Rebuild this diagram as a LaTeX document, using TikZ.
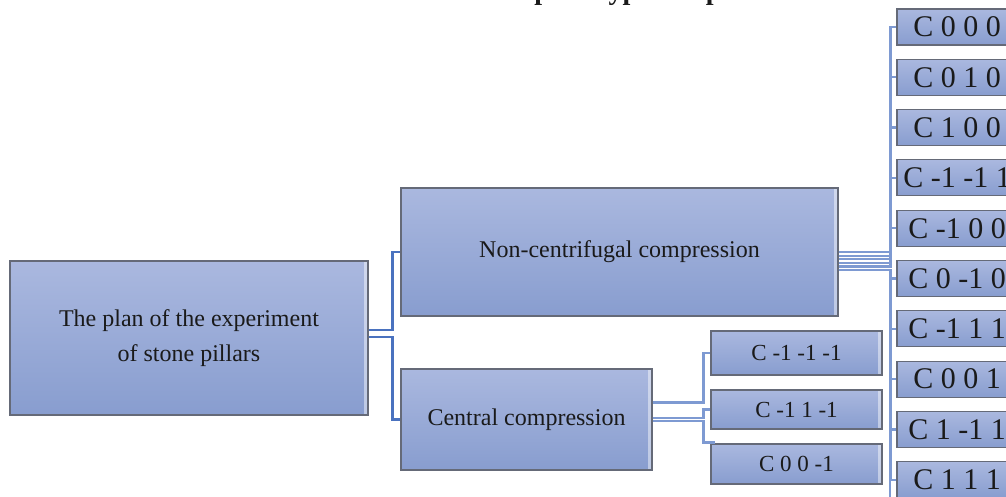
\documentclass[tikz,border=0pt]{standalone}
\usepackage{fontspec}
\setmainfont{Liberation Serif}
\usetikzlibrary{calc}
\definecolor{boxtop}{HTML}{AAB8DF}
\definecolor{boxbot}{HTML}{889DCF}
\definecolor{boxedge}{HTML}{656A78}
\definecolor{linkdark}{HTML}{4A72BF}
\definecolor{linklight}{HTML}{7E9AD2}
\definecolor{txt}{HTML}{1A1A1A}
\tikzset{
  box/.style={rectangle, draw=boxedge, line width=1.1pt, top color=boxtop, bottom color=boxbot,
    inner sep=0pt, text=txt, align=center,
    path picture={\fill[white,opacity=.45] ([xshift=-4pt]path picture bounding box.north east) rectangle (path picture bounding box.south east);}},
  bigtxt/.style={font=\fontsize{24}{35}\selectfont},
  smalltxt/.style={font=\fontsize{23}{26}\selectfont},
  leaftxt/.style={font=\fontsize{30}{32}\selectfont},
  llink/.style={draw=linkdark, line width=2.6pt},
  rlink/.style={draw=linklight, line width=2.2pt},
}
\begin{document}
\begin{tikzpicture}[x=1pt,y=-1pt]
\useasboundingbox (0,0) rectangle (1006,497);
\fill[white] (0,0) rectangle (1006,497);
% partially visible title (cut off at the top)
\node[anchor=base, font=\bfseries\fontsize{28}{30}\selectfont, text=txt, inner sep=0pt] (title) at (528,0) {The numeration of prototype samples};
% main boxes
\node[box, bigtxt, minimum width=358pt, minimum height=154pt] (root) at (189,338) {The plan of the experiment\\of stone pillars};
\node[box, bigtxt, minimum width=437pt, minimum height=128pt] (nc) at (619.5,252) {Non-centrifugal compression};
\node[box, bigtxt, minimum width=251pt, minimum height=101pt] (cc) at (526.5,419.5) {Central compression};
% small boxes
\node[box, smalltxt, minimum width=171pt, minimum height=44pt] (s1) at (796.5,353) {C -1 -1 -1};
\node[box, smalltxt, minimum width=171pt, minimum height=39pt] (s2) at (796.5,409.5) {C -1 1 -1};
\node[box, smalltxt, minimum width=171pt, minimum height=40pt] (s3) at (796.5,464) {C 0 0 -1};
% leaf boxes on the right
\foreach \n/\yy/\t in {r1/27/{C 0 0 0}, r2/77.3/{C 0 1 0}, r3/127.6/{C 1 0 0}, r4/177.9/{C -1 -1 1},
  r5/228.2/{C -1 0 0}, r6/278.5/{C 0 -1 0}, r7/328.8/{C -1 1 1}, r8/379.1/{C 0 0 1},
  r9/429.4/{C 1 -1 1}, r10/479.7/{C 1 1 1}}
  \node[box, leaftxt, minimum width=120pt, minimum height=36pt] (\n) at (957,\yy) {\t};
% connectors: root to children
\draw[llink] ($(root.east)+(0,-8)$) -- ++(24,0) |- (nc.west);
\draw[llink] ($(root.east)+(0,-1)$) -- ++(24,0) |- (cc.west);
% central compression to its children
\draw[rlink] ($(cc.east)+(0,-17)$) -- ++(51,0) |- (s1.west);
\draw[rlink] ($(cc.east)+(0,-1.5)$) -- ++(51,0) |- (s2.west);
\draw[rlink] ($(cc.east)+(0,1.5)$) -- ++(51,0) |- ($(s3.north west)+(5,-1)$);
% non-centrifugal compression to leaves
\foreach \n/\o in {r1/0, r2/3.6, r3/7.2, r4/10.8, r5/14.4, r6/18, r7/18, r8/18, r9/18, r10/18}
  \draw[rlink] ($(nc.east)+(0,\o)$) -- ++(52,0) |- (\n.west);
\coordinate (bot) at (890,497);
\draw[rlink] (r10.west -| bot) -- (bot);
\end{tikzpicture}
\end{document}
